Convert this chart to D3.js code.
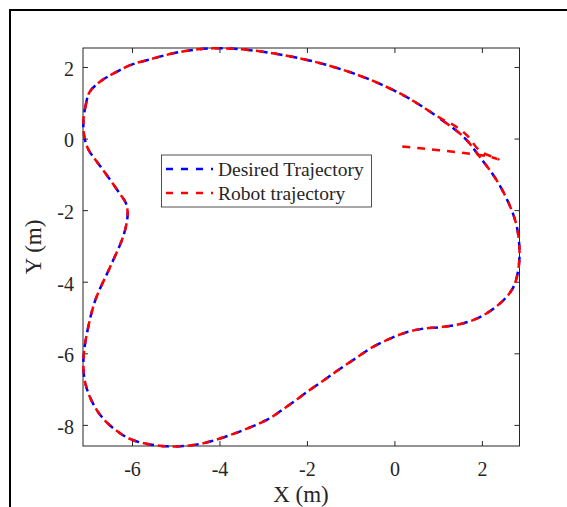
<!DOCTYPE html>
<html>
<head>
<meta charset="utf-8">
<script src="https://cdn.jsdelivr.net/npm/d3@7"></script>
<style>
  body { margin: 0; background: #fff; }
  svg { display: block; }
  text { font-family: "Liberation Serif", "Times New Roman", serif; fill: #262626; }
</style>
</head>
<body>
<svg id="viz" width="567" height="507"></svg>
<script>
// Desired trajectory (closed loop)
const desiredX = [-7.11, -7.06, -6.97, -6.74, -6.42, -6.04, -5.66, -4.90, -4.14, -3.30, -2.16, -1.39, -0.63, 0.13, 0.59, 1.04, 1.58, 1.95, 2.34, 2.65, 2.80, 2.86, 2.83, 2.72, 2.49, 2.03, 1.58, 1.04, 0.66, 0.28, -0.10, -0.56, -0.86, -1.24, -1.62, -2.00, -2.30, -2.61, -2.92, -3.68, -4.44, -5.20, -5.97, -6.38, -6.73, -6.97, -7.08, -7.11, -7.10, -7.03, -6.84, -6.50, -6.22, -6.12, -6.10, -6.14, -6.29, -6.57, -6.82, -7.00, -7.09];
const desiredY = [0.51, 0.92, 1.30, 1.58, 1.82, 2.05, 2.19, 2.42, 2.52, 2.47, 2.24, 2.00, 1.68, 1.26, 0.93, 0.56, 0.05, -0.51, -1.17, -1.91, -2.47, -3.12, -3.68, -4.15, -4.52, -4.94, -5.16, -5.27, -5.31, -5.41, -5.59, -5.87, -6.12, -6.43, -6.76, -7.08, -7.35, -7.62, -7.86, -8.25, -8.53, -8.60, -8.43, -8.14, -7.72, -7.20, -6.76, -6.39, -6.00, -5.44, -4.52, -3.59, -2.80, -2.35, -2.05, -1.80, -1.52, -1.03, -0.62, -0.30, 0.05];

// Robot trajectory: start inside, hairpin, then follows the loop counter-clockwise
const robotX = [0.18, 0.65, 1.20, 1.75, 2.15, 2.33, 2.38, 2.28, 1.95, 1.66, 1.40, 1.05, 0.59, 0.13, -0.63, -1.39, -2.16, -3.30, -4.14, -4.90, -5.66, -6.04, -6.42, -6.74, -6.97, -7.06, -7.11, -7.09, -7.00, -6.82, -6.57, -6.29, -6.14, -6.10, -6.12, -6.22, -6.50, -6.84, -7.03, -7.10, -7.11, -7.08, -6.97, -6.73, -6.38, -5.97, -5.20, -4.44, -3.68, -2.92, -2.61, -2.30, -2.00, -1.62, -1.24, -0.86, -0.56, -0.10, 0.28, 0.66, 1.04, 1.58, 2.03, 2.49, 2.72, 2.83, 2.86, 2.80, 2.65, 2.34, 1.95, 1.58, 1.04];
const robotY = [-0.22, -0.28, -0.35, -0.43, -0.50, -0.56, -0.58, -0.53, -0.34, 0.09, 0.34, 0.57, 0.93, 1.26, 1.68, 2.00, 2.24, 2.47, 2.52, 2.42, 2.19, 2.05, 1.82, 1.58, 1.30, 0.92, 0.51, 0.05, -0.30, -0.62, -1.03, -1.52, -1.80, -2.05, -2.35, -2.80, -3.59, -4.52, -5.44, -6.00, -6.39, -6.76, -7.20, -7.72, -8.14, -8.43, -8.60, -8.53, -8.25, -7.86, -7.62, -7.35, -7.08, -6.76, -6.43, -6.12, -5.87, -5.59, -5.41, -5.31, -5.27, -5.16, -4.94, -4.52, -4.15, -3.68, -3.12, -2.47, -1.91, -1.17, -0.51, 0.05, 0.56];

const xTicks = [-6, -4, -2, 0, 2];
const yTicks = [-8, -6, -4, -2, 0, 2];
const legendLabels = ['Desired Trajectory', 'Robot trajectory'];
const seriesColors = ['#0000ff', '#ff0000'];

const svg = d3.select('#viz');
const AX = '#262626';

const x = d3.scaleLinear().domain([-7.12, 2.86]).range([83, 519.5]);
const y = d3.scaleLinear().domain([-8.59, 2.53]).range([446, 48]);

// outer figure frame (only top/left edges fall inside the picture)
svg.append('path')
  .attr('d', 'M10,507V10H567')
  .attr('fill', 'none')
  .attr('stroke', '#000')
  .attr('stroke-width', 2);

// axes
const styleAxis = (g) => {
  g.select('.domain').remove();
  g.selectAll('.tick line').attr('stroke', AX).attr('stroke-width', 1);
  g.selectAll('.tick text').attr('fill', AX).style('font-size', '20px')
    .style('font-family', '"Liberation Serif", "Times New Roman", serif');
};

svg.append('g')
  .attr('transform', 'translate(0,446)')
  .call(d3.axisBottom(x).tickValues(xTicks).tickSize(-5).tickPadding(16).tickFormat((d) => d))
  .call(styleAxis);

svg.append('g')
  .attr('transform', 'translate(0,48)')
  .call(d3.axisTop(x).tickValues(xTicks).tickSize(-5).tickFormat(''))
  .call(styleAxis);

svg.append('g')
  .attr('transform', 'translate(83,0)')
  .call(d3.axisLeft(y).tickValues(yTicks).tickSize(-5).tickPadding(9).tickFormat((d) => d))
  .call(styleAxis)
  .selectAll('.tick text').attr('dy', '0.42em');

svg.append('g')
  .attr('transform', 'translate(519.5,0)')
  .call(d3.axisRight(y).tickValues(yTicks).tickSize(-5).tickFormat(''))
  .call(styleAxis);

svg.append('rect')
  .attr('x', x.range()[0]).attr('y', y.range()[1])
  .attr('width', x.range()[1] - x.range()[0])
  .attr('height', y.range()[0] - y.range()[1])
  .attr('fill', 'none')
  .attr('stroke', AX)
  .attr('stroke-width', 1);

// curves
const desired = desiredX.map((d, i) => [d, desiredY[i]]);
const robot = robotX.map((d, i) => [d, robotY[i]]);

const lineClosed = d3.line().x((d) => x(d[0])).y((d) => y(d[1])).curve(d3.curveCatmullRomClosed.alpha(0.5));
const lineOpen = d3.line().x((d) => x(d[0])).y((d) => y(d[1])).curve(d3.curveCatmullRom.alpha(0.5));

svg.append('path')
  .attr('d', lineClosed(desired))
  .attr('fill', 'none')
  .attr('stroke', seriesColors[0])
  .attr('stroke-width', 2.5)
  .attr('stroke-dasharray', '8,7');

svg.append('path')
  .attr('d', lineOpen(robot))
  .attr('fill', 'none')
  .attr('stroke', seriesColors[1])
  .attr('stroke-width', 2.5)
  .attr('stroke-dasharray', '8,7');

// legend
const lg = svg.append('g');
lg.append('rect')
  .attr('x', 161.5).attr('y', 155)
  .attr('width', 210).attr('height', 52)
  .attr('fill', '#fff')
  .attr('stroke', AX)
  .attr('stroke-width', 0.8);

legendLabels.forEach((label, i) => {
  const yy = 169 + i * 24;
  lg.append('line')
    .attr('x1', 166).attr('x2', 213)
    .attr('y1', yy).attr('y2', yy)
    .attr('stroke', seriesColors[i])
    .attr('stroke-width', 2.5)
    .attr('stroke-dasharray', '7,8');
  lg.append('text')
    .attr('x', 218).attr('y', yy + 7)
    .style('font-size', '19.5px')
    .text(label);
});

// axis labels
svg.append('text')
  .attr('x', 301).attr('y', 502)
  .attr('text-anchor', 'middle')
  .style('font-size', '23px')
  .text('X (m)');

svg.append('text')
  .attr('transform', 'translate(41,247) rotate(-90)')
  .attr('text-anchor', 'middle')
  .style('font-size', '23px')
  .text('Y (m)');
</script>
</body>
</html>
